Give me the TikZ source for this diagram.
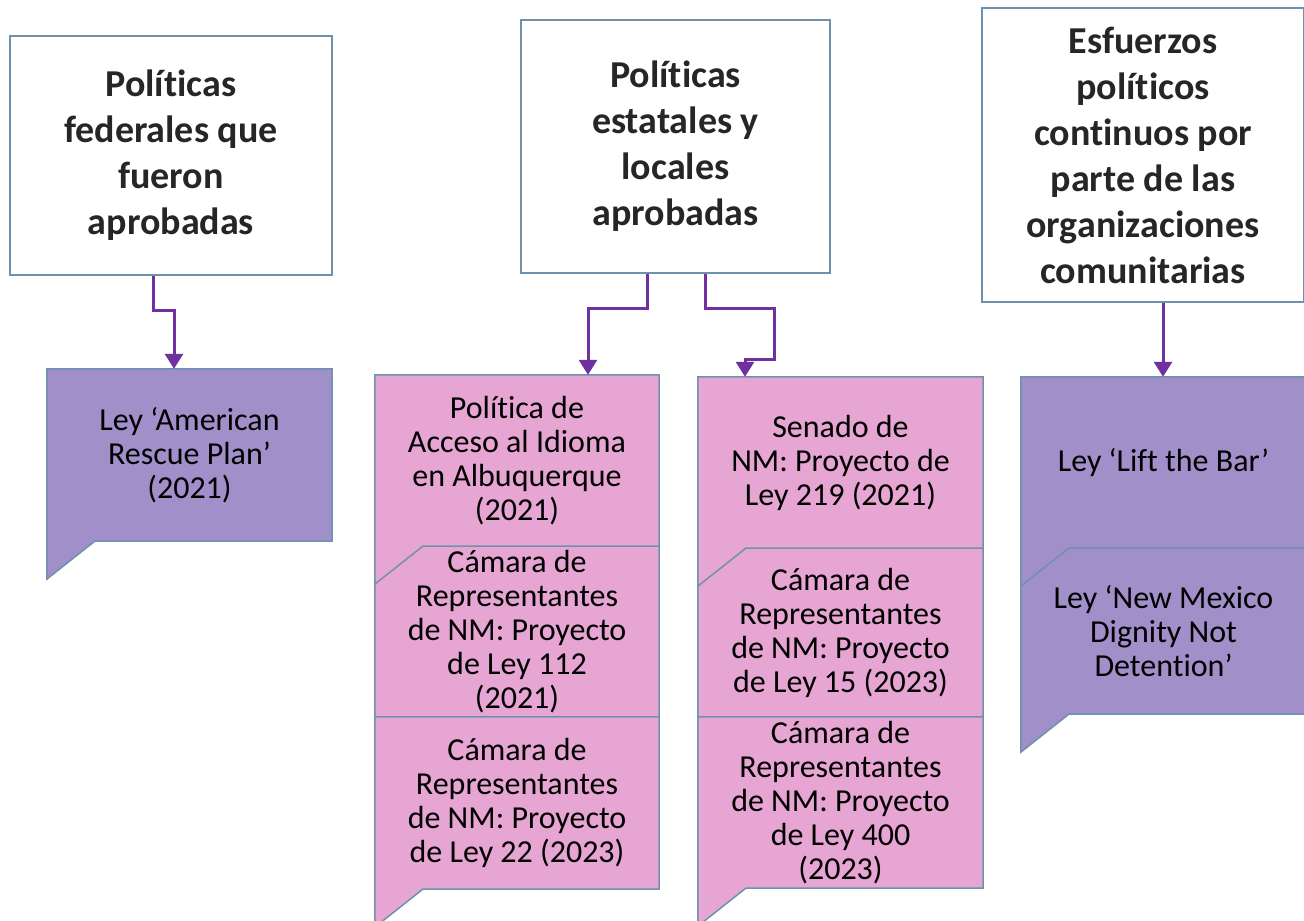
\documentclass[tikz,border=0pt]{standalone}
\usepackage{fontspec}
\setmainfont{Carlito}[Ligatures=NoCommon]
\usetikzlibrary{arrows.meta,backgrounds}
\definecolor{bordc}{HTML}{6E92AE}
\definecolor{purpf}{HTML}{A08FC9}
\definecolor{pinkf}{HTML}{E6A5D2}
\definecolor{arrc}{HTML}{7030A0}
\definecolor{headt}{HTML}{262626}
\newcommand{\calloutshape}[2]{%
  \filldraw[fill=#2,draw=bordc,line width=1.5pt,line join=miter]
    (#1.north west) -- (#1.north east) -- (#1.south east)
    -- ([xshift=48pt]#1.south west) -- ([yshift=-38pt]#1.south west) -- cycle;}
\begin{document}
\begin{tikzpicture}[x=1pt,y=-1pt,
  hdr/.style={draw=bordc,line width=1.5pt,fill=white,align=center,
    font=\fontsize{38}{46}\selectfont\bfseries,text=headt,inner sep=0pt},
  cbody/.style={align=center,font=\fontsize{32}{34}\selectfont,text=black,inner sep=0pt},
  conn/.style={draw=arrc,line width=3pt,-{Triangle[width=18pt,length=15pt]}},
]
\useasboundingbox (0,0) rectangle (1304,921);

% header boxes
\node[hdr,minimum width=322pt,minimum height=239pt] (h1) at (171,155.5)
  {Políticas\\federales que\\fueron\\aprobadas};
\node[hdr,minimum width=309pt,minimum height=253pt] (h2) at (675.5,146.5)
  {Políticas\\estatales y\\locales\\aprobadas};
\node[hdr,minimum width=322pt,minimum height=294pt] (h3) at (1143,155)
  {Esfuerzos\\políticos\\continuos por\\parte de las\\organizaciones\\comunitarias};

% callout texts
\node[cbody,minimum width=285pt,minimum height=172pt] (p1) at (189.5,455)
  {Ley ‘American\\Rescue Plan’\\(2021)};
\node[cbody,minimum width=284pt,minimum height=171pt] (a1) at (517,460.5)
  {Política de\\Acceso al Idioma\\en Albuquerque\\(2021)};
\node[cbody,minimum width=284pt,minimum height=171pt] (a2) at (517,631.5)
  {Cámara de\\Representantes\\de NM: Proyecto\\de Ley 112\\(2021)};
\node[cbody,minimum width=284pt,minimum height=172pt] (a3) at (517,803)
  {Cámara de\\Representantes\\de NM: Proyecto\\de Ley 22 (2023)};
\node[cbody,minimum width=285pt,minimum height=171pt] (b1) at (840.5,462.5)
  {Senado de\\NM: Proyecto de\\Ley 219 (2021)};
\node[cbody,minimum width=285pt,minimum height=169pt] (b2) at (840.5,632.5)
  {Cámara de\\Representantes\\de NM: Proyecto\\de Ley 15 (2023)};
\node[cbody,minimum width=285pt,minimum height=171pt] (b3) at (840.5,802.5)
  {Cámara de\\Representantes\\de NM: Proyecto\\de Ley 400\\(2023)};
\node[cbody,minimum width=285pt,minimum height=171pt] (c1) at (1163.5,462.5)
  {Ley ‘Lift the Bar’};
\node[cbody,minimum width=285pt,minimum height=166pt] (c2) at (1163.5,631)
  {Ley ‘New Mexico\\Dignity Not\\Detention’};

% callout shapes behind texts
\begin{scope}[on background layer]
  \calloutshape{p1}{purpf}
  \calloutshape{a2}{pinkf}
  \calloutshape{a3}{pinkf}
  \calloutshape{a1}{pinkf}
  \calloutshape{b2}{pinkf}
  \calloutshape{b3}{pinkf}
  \calloutshape{b1}{pinkf}
  \calloutshape{c2}{purpf}
  \calloutshape{c1}{purpf}
\end{scope}

% connectors
\draw[conn] ([xshift=-18pt]h1.south) -- ++(0,35) -| ([xshift=-15.5pt]p1.north);
\draw[conn] ([xshift=-28.5pt]h2.south) -- ++(0,35) -| ([xshift=71pt]a1.north);
\draw[conn] ([xshift=29.5pt]h2.south) -- ++(0,35) -- ++(69,0) -- ++(0,51)
  -| ([xshift=-95.5pt]b1.north);
\draw[conn] ([xshift=20pt]h3.south) -- ([xshift=-0.5pt]c1.north);
\end{tikzpicture}
\end{document}
